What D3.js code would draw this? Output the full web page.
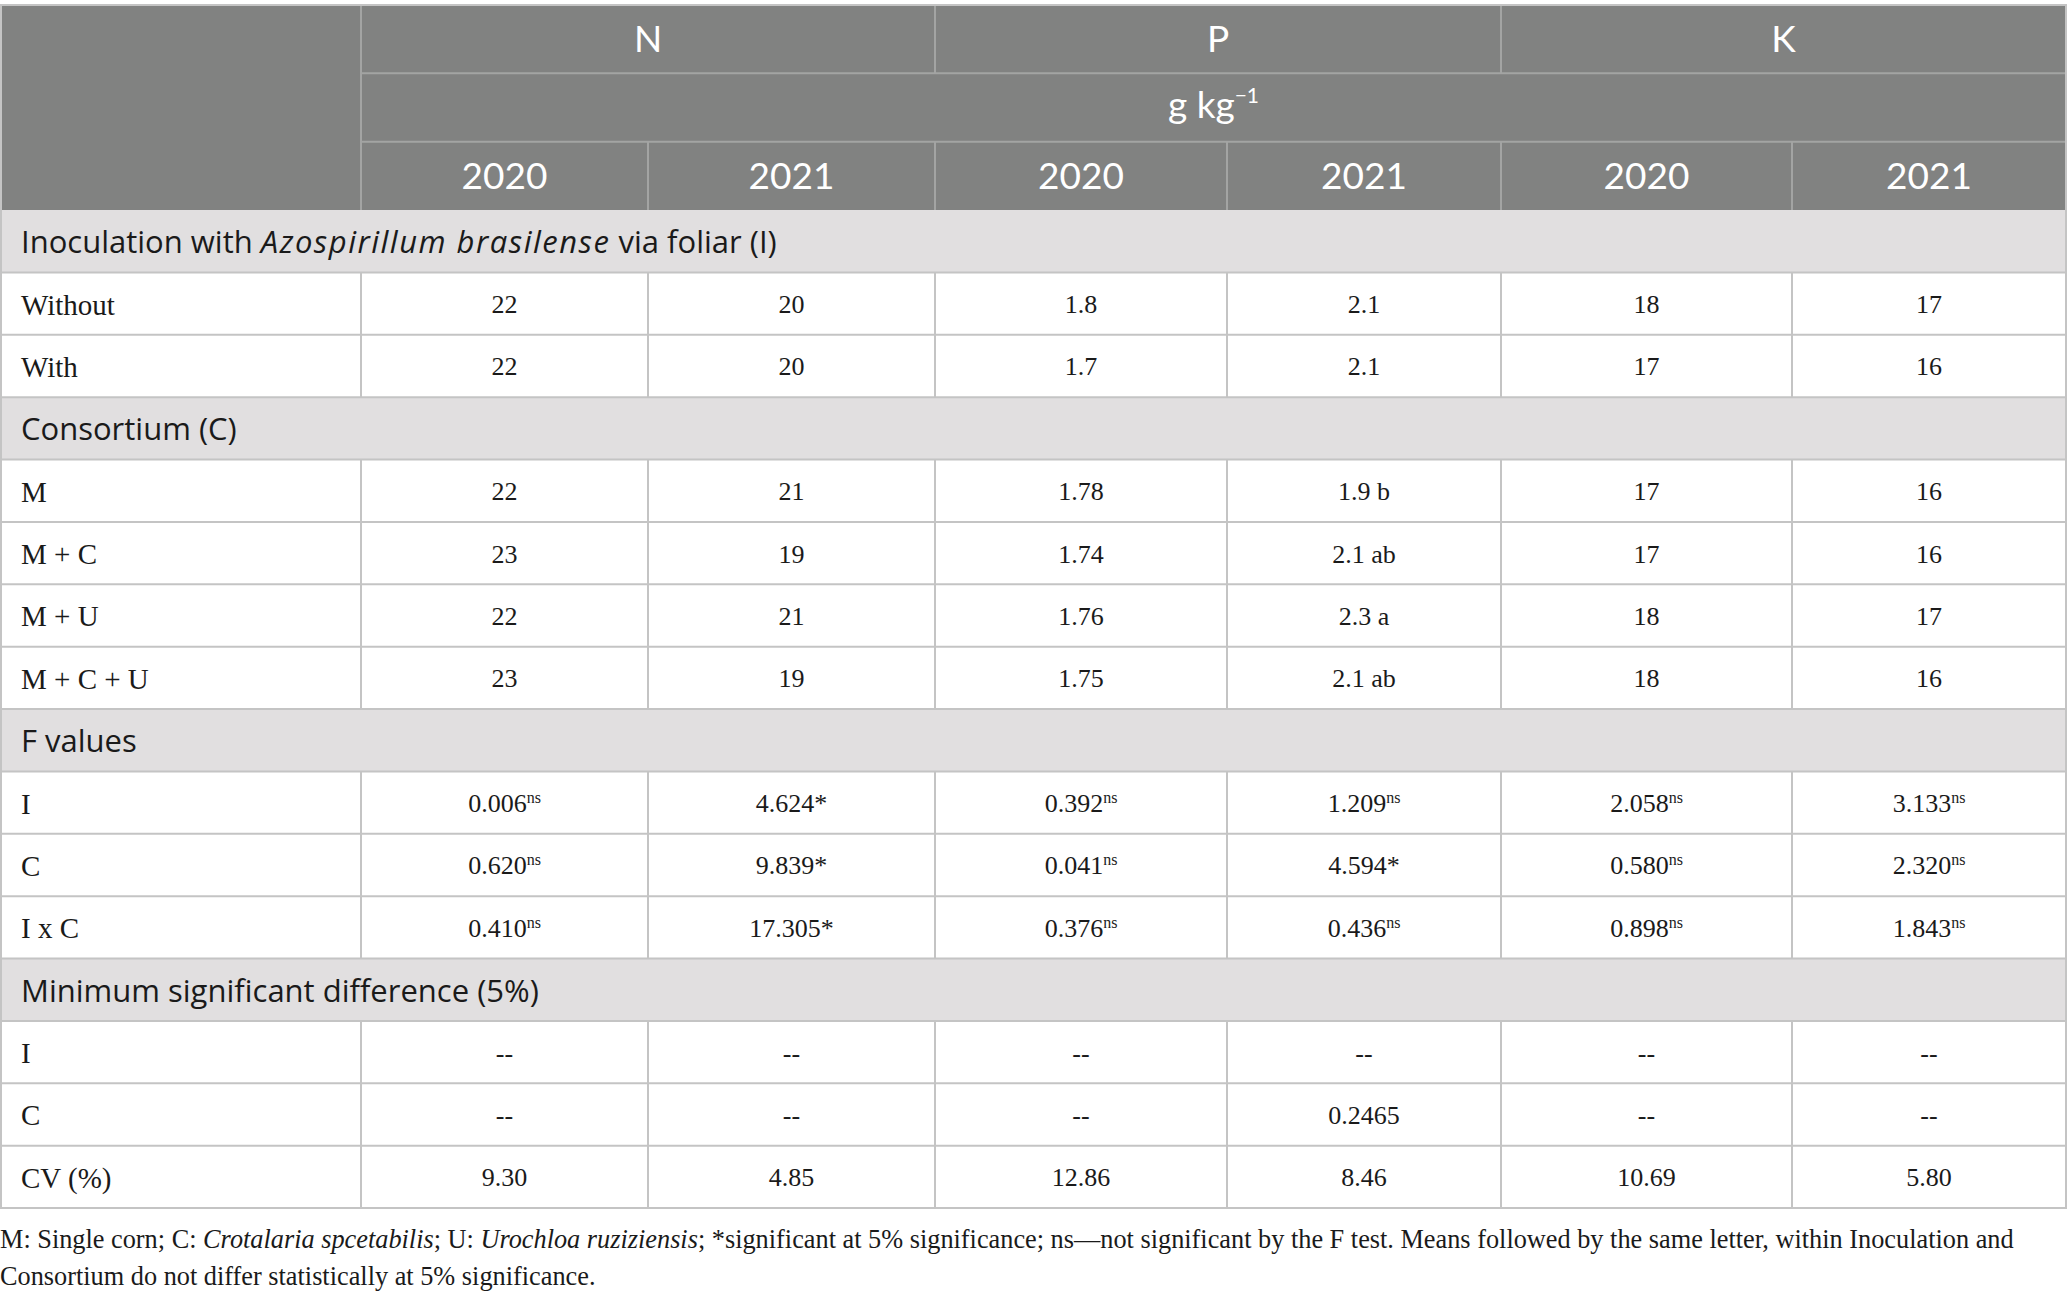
<!DOCTYPE html>
<html>
<head>
<meta charset="utf-8">
<script src="https://cdn.jsdelivr.net/npm/d3@7"></script>
<style>
  body { margin: 0; background: #fff; }
  svg { display: block; }
</style>
</head>
<body>
<div id="table"></div>
<script>
// table content
var nutrients = ["N", "P", "K"];
var years = ["2020", "2021"];
var unitBase = "g kg", unitExp = "\u22121";

var inocTitle = [["Inoculation with ", false], ["Azospirillum brasilense", true], [" via foliar (I)", false]];
var inocLabels = ["Without", "With"];
var inocValues = [
  ["22", "20", "1.8", "2.1", "18", "17"],
  ["22", "20", "1.7", "2.1", "17", "16"]
];

var consTitle = [["Consortium (C)", false]];
var consLabels = ["M", "M + C", "M + U", "M + C + U"];
var consValues = [
  ["22", "21", "1.78", "1.9 b", "17", "16"],
  ["23", "19", "1.74", "2.1 ab", "17", "16"],
  ["22", "21", "1.76", "2.3 a", "18", "17"],
  ["23", "19", "1.75", "2.1 ab", "18", "16"]
];

var fTitle = [["F values", false]];
var fLabels = ["I", "C", "I x C"];
var fValues = [
  ["0.006", "4.624", "0.392", "1.209", "2.058", "3.133"],
  ["0.620", "9.839", "0.041", "4.594", "0.580", "2.320"],
  ["0.410", "17.305", "0.376", "0.436", "0.898", "1.843"]
];
var fSig = [
  ["ns", "*", "ns", "ns", "ns", "ns"],
  ["ns", "*", "ns", "*", "ns", "ns"],
  ["ns", "*", "ns", "ns", "ns", "ns"]
];

var msdTitle = [["Minimum significant difference (5%)", false]];
var msdLabels = ["I", "C", "CV (%)"];
var msdValues = [
  ["--", "--", "--", "--", "--", "--"],
  ["--", "--", "--", "0.2465", "--", "--"],
  ["9.30", "4.85", "12.86", "8.46", "10.69", "5.80"]
];

var footLine1 = [["M: Single corn; C: ", false], ["Crotalaria spcetabilis", true], ["; U: ", false],
  ["Urochloa ruziziensis", true],
  ["; *significant at 5% significance; ns\u2014not significant by the F test. Means followed by the same letter, within Inoculation and", false]];
var footLine2 = [["Consortium do not differ statistically at 5% significance.", false]];

// layout
var W = 2068, H = 1298;
var colEdges = [0, 361, 648, 935, 1227, 1501, 1792, 2066];
var headTop = 5, headBottom = 210, bodyBottom = 1208;
var headFont = "Lato, 'Open Sans', sans-serif";
var sans = "'Open Sans', Lato, sans-serif";
var serif = "'Liberation Serif', 'DejaVu Serif', serif";

// flatten the sections into rows
var rows = [];
function addSection(title, labels, values, sig) {
  rows.push({ type: "section", parts: title });
  labels.forEach(function(l, i) {
    rows.push({ type: "data", label: l, values: values[i], sig: sig ? sig[i] : null });
  });
}
addSection(inocTitle, inocLabels, inocValues);
addSection(consTitle, consLabels, consValues);
addSection(fTitle, fLabels, fValues, fSig);
addSection(msdTitle, msdLabels, msdValues);

var svg = d3.select("#table").append("svg")
  .attr("width", W).attr("height", H);

var x = d3.scaleOrdinal().domain(d3.range(colEdges.length)).range(colEdges);
var xMid = function(a, b) { return (x(a) + x(b)) / 2; };
var hy = d3.scaleBand().domain([0, 1, 2]).range([headTop, headBottom]);
var y = d3.scaleBand().domain(d3.range(rows.length)).range([headBottom, bodyBottom]);

// header block
svg.append("rect")
  .attr("x", 0).attr("y", headTop).attr("width", x(7)).attr("height", headBottom - headTop)
  .attr("fill", "#818281");

var hline = "#a3a4a3";
var hg = svg.append("g").attr("stroke", hline).attr("stroke-width", 2);
hg.append("line").attr("x1", x(1)).attr("x2", x(1)).attr("y1", headTop).attr("y2", headBottom);
[3, 5].forEach(function(c) {
  hg.append("line").attr("x1", x(c)).attr("x2", x(c)).attr("y1", headTop).attr("y2", hy(1));
});
[2, 3, 4, 5, 6].forEach(function(c) {
  hg.append("line").attr("x1", x(c)).attr("x2", x(c)).attr("y1", hy(2)).attr("y2", headBottom);
});
[1, 2].forEach(function(r) {
  hg.append("line").attr("x1", x(1)).attr("x2", x(7)).attr("y1", hy(r)).attr("y2", hy(r));
});

svg.append("g").selectAll("text")
  .data(nutrients).enter().append("text")
    .attr("x", function(d, i) { return xMid(1 + 2 * i, 3 + 2 * i); })
    .attr("y", hy(0) + hy.bandwidth() / 2 + 13)
    .attr("text-anchor", "middle")
    .attr("font-family", headFont).attr("font-size", 37).attr("fill", "#fff")
    .text(function(d) { return d; });

var unit = svg.append("text")
  .attr("x", xMid(1, 7)).attr("y", hy(1) + hy.bandwidth() / 2 + 10)
  .attr("text-anchor", "middle")
  .attr("font-family", headFont).attr("font-size", 37).attr("fill", "#fff");
unit.append("tspan").text(unitBase);
unit.append("tspan").attr("font-size", 21).attr("dy", -15).text(unitExp);

var yearCols = d3.range(6);
svg.append("g").selectAll("text")
  .data(yearCols).enter().append("text")
    .attr("x", function(c) { return xMid(c + 1, c + 2); })
    .attr("y", hy(2) + hy.bandwidth() / 2 + 13)
    .attr("text-anchor", "middle")
    .attr("font-family", headFont).attr("font-size", 37).attr("fill", "#fff")
    .text(function(c) { return years[c % 2]; });

// body
var body = svg.append("g");
var rowG = body.selectAll("g.row")
  .data(rows).enter().append("g")
    .attr("class", "row")
    .attr("transform", function(d, i) { return "translate(0," + y(i) + ")"; });

rowG.filter(function(d) { return d.type === "section"; })
  .append("rect")
    .attr("x", 0).attr("width", x(7)).attr("height", y.bandwidth())
    .attr("fill", "#e1dfe0");

// italic bits of the section titles are a touch wider in the original
function addParts(sel, parts, italicSpacing) {
  parts.forEach(function(p) {
    var ts = sel.append("tspan").attr("font-style", p[1] ? "italic" : "normal").text(p[0]);
    if (p[1] && italicSpacing) ts.attr("letter-spacing", italicSpacing);
  });
}

rowG.filter(function(d) { return d.type === "section"; })
  .append("text")
    .attr("x", 21).attr("y", y.bandwidth() / 2 + 12)
    .attr("font-family", sans).attr("font-size", 31).attr("fill", "#1a1a1a")
    .each(function(d) { addParts(d3.select(this), d.parts, 1.5); });

var dataRows = rowG.filter(function(d) { return d.type === "data"; });
dataRows.append("text")
  .attr("x", 21).attr("y", y.bandwidth() / 2 + 11)
  .attr("font-family", serif).attr("font-size", 29).attr("fill", "#1a1a1a")
  .text(function(d) { return d.label; });

dataRows.each(function(d) {
  var g = d3.select(this);
  d.values.forEach(function(v, c) {
    var t = g.append("text")
      .attr("x", xMid(c + 1, c + 2)).attr("y", y.bandwidth() / 2 + 9.5)
      .attr("text-anchor", "middle")
      .attr("font-family", serif).attr("font-size", 26).attr("fill", "#1a1a1a");
    t.append("tspan").text(v);
    if (d.sig) {
      if (d.sig[c] === "ns") {
        t.append("tspan").attr("font-size", 16).attr("dy", -9).text("ns");
      } else {
        t.append("tspan").text(d.sig[c]);
      }
    }
  });
});

// grid lines of the body
var gl = "#c4c4c4";
var grid = svg.append("g").attr("stroke", gl).attr("stroke-width", 2).attr("fill", "none");
rows.forEach(function(d, i) {
  grid.append("line").attr("x1", 0).attr("x2", x(7))
    .attr("y1", y(i) + y.bandwidth()).attr("y2", y(i) + y.bandwidth());
  if (d.type === "data") {
    d3.range(1, 7).forEach(function(c) {
      grid.append("line").attr("x1", x(c)).attr("x2", x(c))
        .attr("y1", y(i)).attr("y2", y(i) + y.bandwidth());
    });
  }
});
grid.append("rect")
  .attr("x", 1).attr("y", headTop).attr("width", x(7) - 1).attr("height", bodyBottom - headTop);

// footnote
[footLine1, footLine2].forEach(function(line, i) {
  var t = svg.append("text")
    .attr("x", 0).attr("y", 1248 + i * 37)
    .attr("font-family", serif).attr("font-size", 26.3).attr("fill", "#1a1a1a");
  addParts(t, line);
});
</script>
</body>
</html>
